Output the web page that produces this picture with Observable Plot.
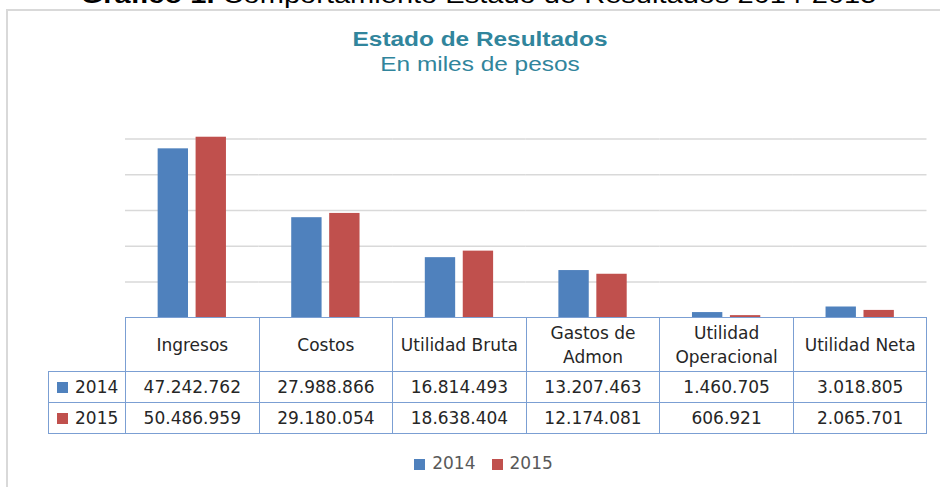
<!DOCTYPE html>
<html>
<head>
<meta charset="utf-8">
<script src="https://cdn.jsdelivr.net/npm/d3@7"></script>
<script src="https://cdn.jsdelivr.net/npm/@observablehq/plot@0.6"></script>
<style>
  html, body { margin: 0; padding: 0; background: #fff; }
  #page { position: relative; width: 940px; height: 487px; overflow: hidden; background: #fff; }
  #heading { position: absolute; left: 0; top: -17px; width: 957px; text-align: center; font-family: "Liberation Sans", Arial, sans-serif; font-size: 24px; line-height: 24px; color: #000; white-space: nowrap; transform: scaleX(1.21); }
  #frame { position: absolute; left: 6px; top: 9px; width: 1000px; height: 1000px; border: 2px solid #d9d9d9; box-sizing: border-box; }
  .ttl { position: absolute; left: 20px; width: 920px; text-align: center; font-family: "Liberation Sans", Arial, sans-serif; font-size: 20px; line-height: 20px; color: #31859C; white-space: nowrap; transform: scaleX(1.22); }
  #title { top: 29px; font-weight: bold; }
  #subtitle { top: 54px; }
  #chart { position: absolute; left: 0; top: 90px; }
  #tbl { position: absolute; left: 48px; top: 317px; border-collapse: collapse; table-layout: fixed; font-family: "DejaVu Sans", sans-serif; font-size: 17px; color: #262626; }
  #tbl td { border: 1px solid #7b9fd3; padding: 0; text-align: center; }
  #tbl tr.hdr td { height: 53px; line-height: 24px; }
  #tbl tr.val td { height: 30px; line-height: 30px; }
  #tbl td.corner { border-top: none; border-left: none; }
  #tbl td.lg { text-align: left; padding-left: 8px; white-space: nowrap; }
  .sw { display: inline-block; width: 11px; height: 11px; margin-right: 7px; vertical-align: 0px; }
  #legend { position: absolute; left: 0; top: 451px; width: 967px; display: flex; justify-content: center; align-items: center; font-family: "DejaVu Sans", sans-serif; font-size: 17px; color: #595959; line-height: 24px; }
  #legend .item { display: flex; align-items: center; margin: 0 8px; }
  #legend .sq { width: 11px; height: 11px; margin-right: 7px; margin-top: 2px; }
</style>
</head>
<body>
<div id="page">
  <div id="frame"></div>
  <div id="heading"><b>Gráfico 1.</b> Comportamiento Estado de Resultados 2014-2015</div>
  <div id="title" class="ttl">Estado de Resultados</div>
  <div id="subtitle" class="ttl">En miles de pesos</div>
  <div id="chart"></div>
  <table id="tbl"></table>
  <div id="legend"></div>
</div>
<script>
// ---- data ----
const categories = ["Ingresos", "Costos", "Utilidad Bruta", "Gastos de Admon", "Utilidad Operacional", "Utilidad Neta"];
const years = ["2014", "2015"];
const values2014 = [47242762, 27988866, 16814493, 13207463, 1460705, 3018805];
const values2015 = [50486959, 29180054, 18638404, 12174081, 606921, 2065701];
const gridTicks = [10000000, 20000000, 30000000, 40000000, 50000000];
const yMax = 60000000;
const colors = ["#4F81BD", "#C0504D"];

const series = {"2014": values2014, "2015": values2015};
const data = categories.flatMap((c, i) => years.map(y => ({cat: c, year: y, value: series[y][i]})));

const fmt = d3.formatLocale({decimal: ",", thousands: ".", grouping: [3], currency: ["$", ""]}).format(",d");

// ---- chart ----
const chart = Plot.plot({
  width: 940,
  height: 227.3,
  marginLeft: 125,
  marginRight: 13.5,
  marginTop: 12.7,
  marginBottom: 0,
  fx: {domain: categories, padding: 0, axis: null, round: false},
  x: {domain: years, paddingInner: 0.2, paddingOuter: 0.86, axis: null, round: false},
  y: {domain: [0, yMax], axis: null},
  color: {domain: years, range: colors},
  style: {background: "transparent"},
  marks: [
    Plot.ruleY(gridTicks, {stroke: "#d9d9d9", strokeWidth: 1.5}),
    Plot.barY(data, {fx: "cat", x: "year", y: "value", fill: "year"})
  ]
});
document.getElementById("chart").appendChild(chart);

// ---- data table ----
const tbl = document.getElementById("tbl");
const colW = (926.5 - 125) / categories.length;
const cg = document.createElement("colgroup");
cg.innerHTML = `<col style="width:77px">` + categories.map(() => `<col style="width:${colW}px">`).join("");
tbl.appendChild(cg);
const hdr = document.createElement("tr");
hdr.className = "hdr";
hdr.innerHTML = `<td class="corner"></td>` + categories.map(c => `<td>${c}</td>`).join("");
tbl.appendChild(hdr);
years.forEach((y, k) => {
  const tr = document.createElement("tr");
  tr.className = "val";
  tr.innerHTML = `<td class="lg"><span class="sw" style="background:${colors[k]}"></span>${y}</td>` +
    series[y].map(v => `<td>${fmt(v)}</td>`).join("");
  tbl.appendChild(tr);
});

// ---- legend ----
const lg = document.getElementById("legend");
lg.innerHTML = years.map((y, k) => `<div class="item"><div class="sq" style="background:${colors[k]}"></div><span>${y}</span></div>`).join("");
</script>
</body>
</html>
